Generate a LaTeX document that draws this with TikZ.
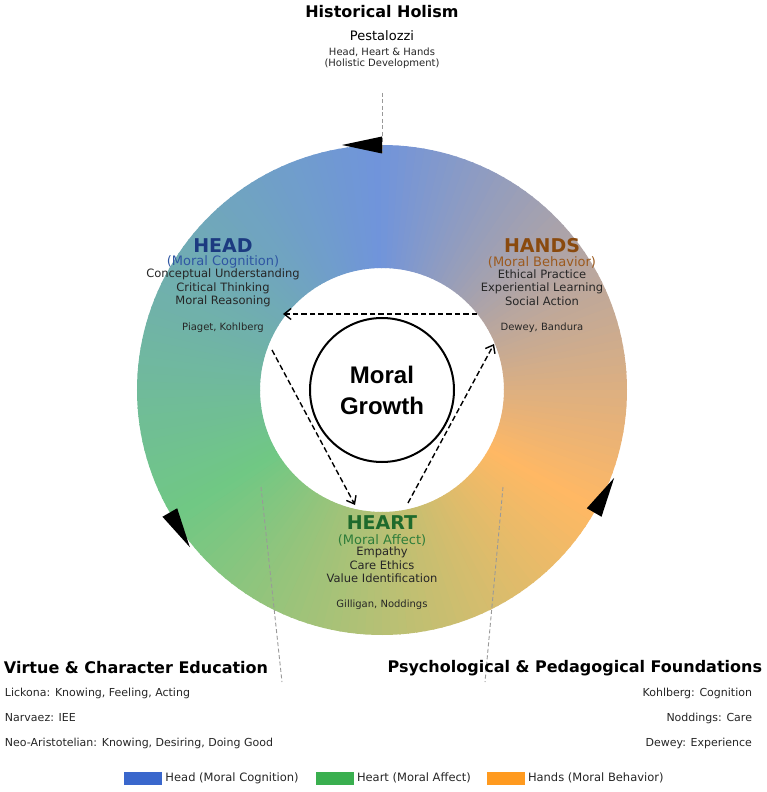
\documentclass[tikz,border=0pt]{standalone}
\usepackage{fontspec}
\setmainfont{DejaVu Sans}
\newfontfamily\growthfont{Liberation Sans}
\usetikzlibrary{arrows.meta,positioning}

\definecolor{headblue}{HTML}{3A67CC}
\definecolor{heartgreen}{HTML}{3AAF4F}
\definecolor{handsorange}{HTML}{FF9A1F}
\definecolor{ringblue}{HTML}{7094DB}
\definecolor{ringgreen}{HTML}{70C884}
\definecolor{ringorange}{HTML}{FFB864}
\definecolor{headdark}{HTML}{1C3A80}
\definecolor{headsub}{HTML}{2F56A3}
\definecolor{heartdark}{HTML}{1E6A2C}
\definecolor{heartsub}{HTML}{2E7D3A}
\definecolor{handsdark}{HTML}{8A4A0E}
\definecolor{handssub}{HTML}{9C5A1E}
\definecolor{itemgray}{HTML}{262626}

\begin{document}
\begin{tikzpicture}[
    x=1pt, y=1pt,
    >={Straight Barb[length=7pt,width=11pt]},
    every node/.style={inner sep=0pt, outer sep=0pt},
    bigtitle/.style={font=\fontsize{16}{19}\selectfont\bfseries},
    pillar/.style  ={font=\fontsize{19}{22}\selectfont\bfseries},
    sub/.style     ={font=\fontsize{13}{15}\selectfont},
    item/.style    ={font=\fontsize{11.5}{13}\selectfont, text=itemgray},
    scholar/.style ={font=\fontsize{10}{12}\selectfont, text=itemgray},
    source/.style  ={font=\fontsize{11}{13}\selectfont, text=itemgray},
    patch/.style   ={rectangle, minimum width=38pt, minimum height=13pt},
    legtext/.style ={font=\fontsize{11.5}{13}\selectfont, text=itemgray},
    guide/.style   ={draw=black!40, line width=0.9pt, dash pattern=on 4pt off 2.5pt},
    flow/.style    ={->, line width=1.4pt, dash pattern=on 5.5pt off 3pt}
]
\useasboundingbox (-382,-402) rectangle (385,390);
\fill[white] (-382,-402) rectangle (385,390);

%–––– RING (angular blend) –––––––––––––––––––––––––––
\foreach \ca/\cb/\s in {ringblue/ringgreen/90, ringgreen/ringorange/210, ringorange/ringblue/330}
  \foreach \i in {0,...,59} {
    \pgfmathsetmacro\a{\s+2*\i}
    \pgfmathsetmacro\b{\a+2.4}
    \pgfmathsetmacro\p{100-100*\i/60}
    \fill[\ca!\p!\cb] (\a:122pt) arc[start angle=\a, end angle=\b, radius=122pt]
      -- (\b:245pt) arc[start angle=\b, end angle=\a, radius=245pt] -- cycle;
  }

%–––– GUIDE LINES ––––––––––––––––––––––––––––––––––––
\coordinate (toptick)   at (0,297);
\coordinate (topring)   at (0,237);
\coordinate (leftring)  at (-121,-97);
\coordinate (lefttick)  at (-100,-292);
\coordinate (rightring) at (121,-97);
\coordinate (righttick) at (103,-292);
\draw[guide] (toptick) -- (topring);
\draw[guide] (leftring) -- (lefttick);
\draw[guide] (rightring) -- (righttick);

% cycle arrowheads on the outer rim
\foreach \a in {90,210,330}
  \fill[black, rotate=\a] (236.5,0) -- (253.5,0) -- (245,40) -- cycle;

%–––– TOP ––––––––––––––––––––––––––––––––––––––––––––
\node (holism) [bigtitle] at (0,378) {Historical Holism};
\node (pest)   [sub]      at (0,354) {Pestalozzi};
\node (hhh)    [scholar]  at (0,338) {Head, Heart \& Hands};
\node (holdev) [scholar]  at (0,326) {(Holistic Development)};

%–––– HEAD –––––––––––––––––––––––––––––––––––––––––––
\node (head)     [pillar, text=headdark] at (-159,144.5) {HEAD};
\node (headsub)  [sub, text=headsub]     at (-159,128) {(Moral Cognition)};
\node (head1)    [item] at (-159,116) {Conceptual Understanding};
\node (head2)    [item] at (-159,102) {Critical Thinking};
\node (head3)    [item] at (-159,89)  {Moral Reasoning};
\node (headref)  [scholar] at (-159,62) {Piaget, Kohlberg};

%–––– HANDS ––––––––––––––––––––––––––––––––––––––––––
\node (hands)    [pillar, text=handsdark] at (160,144.5) {HANDS};
\node (handssub) [sub, text=handssub]     at (160,128) {(Moral Behavior)};
\node (hands1)   [item] at (160,116) {Ethical Practice};
\node (hands2)   [item] at (160,102) {Experiential Learning};
\node (hands3)   [item] at (160,89)  {Social Action};
\node (handsref) [scholar] at (160,62) {Dewey, Bandura};

%–––– HEART ––––––––––––––––––––––––––––––––––––––––––
\node (heart)    [pillar, text=heartdark] at (0,-133) {HEART};
\node (heartsub) [sub, text=heartsub]     at (0,-150) {(Moral Affect)};
\node (heart1)   [item] at (0,-162) {Empathy};
\node (heart2)   [item] at (0,-175) {Care Ethics};
\node (heart3)   [item] at (0,-188) {Value Identification};
\node (heartref) [scholar] at (0,-215) {Gilligan, Noddings};

%–––– CENTRE –––––––––––––––––––––––––––––––––––––––––
\node (growth) [circle, draw=black, line width=2pt, minimum size=144pt,
                align=center, font={\growthfont\fontsize{24}{31}\selectfont\bfseries}]
               at (0,0) {Moral\\Growth};

% flow between the three domains
\coordinate (handsout) at (95,76);
\coordinate (headin)   at (-99,76);
\coordinate (headout)  at (-110,40);
\coordinate (heartin)  at (-27,-115);
\coordinate (heartout) at (26,-113);
\coordinate (handsin)  at (112,46);
\draw[flow] (handsout) -- (headin);
\draw[flow] (headout) -- (heartin);
\draw[flow] (heartout) -- (handsin);

%–––– FOUNDATIONS ––––––––––––––––––––––––––––––––––––
\node (virtue) [bigtitle, anchor=west] at (-378,-278) {Virtue \& Character Education};
\node (lick)   [source, anchor=west]   at (-377,-303) {Lickona: Knowing, Feeling, Acting};
\node (narv)   [source, anchor=west]   at (-377,-328) {Narvaez: IEE};
\node (neo)    [source, anchor=west]   at (-377,-353) {Neo-Aristotelian: Knowing, Desiring, Doing Good};

\node (psych)  [bigtitle, anchor=east] at (380,-278) {Psychological \& Pedagogical Foundations};
\node (kohl)   [source, anchor=east]   at (370,-303) {Kohlberg: Cognition};
\node (nodd)   [source, anchor=east]   at (370,-328) {Noddings: Care};
\node (dewey)  [source, anchor=east]   at (370,-353) {Dewey: Experience};

%–––– LEGEND –––––––––––––––––––––––––––––––––––––––––
\node (lhead)  [patch, fill=headblue]    at (-238.5,-388) {};
\node          [legtext, right=3pt of lhead]  {Head (Moral Cognition)};
\node (lheart) [patch, fill=heartgreen]  at (-47,-388) {};
\node          [legtext, right=3pt of lheart] {Heart (Moral Affect)};
\node (lhands) [patch, fill=handsorange] at (124,-388) {};
\node          [legtext, right=3pt of lhands] {Hands (Moral Behavior)};
\end{tikzpicture}
\end{document}
